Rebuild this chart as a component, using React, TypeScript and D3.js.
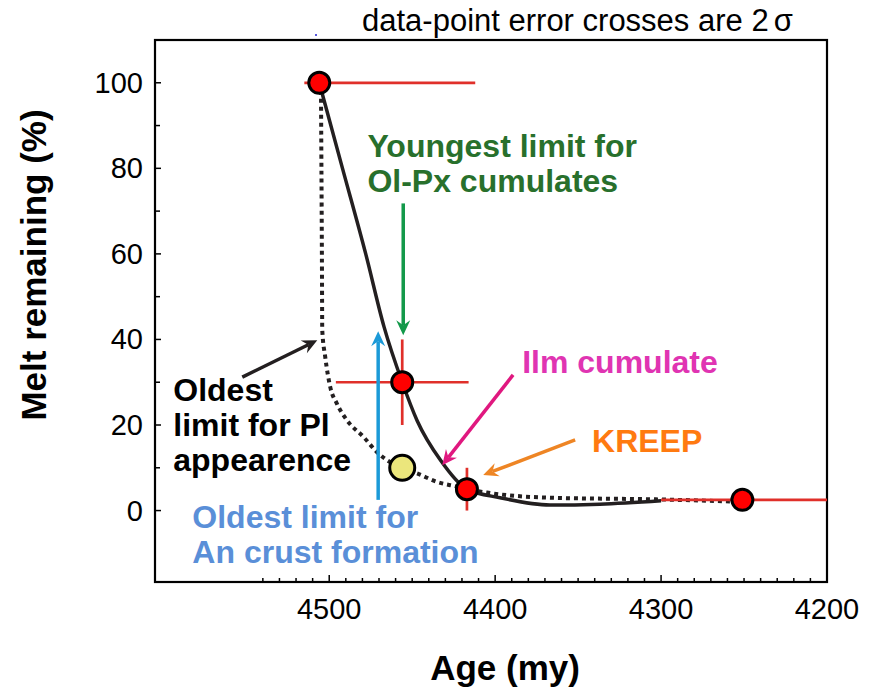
import React from "react";
import * as d3 from "d3";

// ---------- data ----------
const redPoints = [
  { age: 4506, melt: 100, ageLo: 4412, ageHi: 4515, meltLo: 100, meltHi: 100 },
  { age: 4456, melt: 30, ageLo: 4416, ageHi: 4496, meltLo: 20, meltHi: 40 },
  { age: 4417, melt: 5, ageLo: 4417, ageHi: 4417, meltLo: 0, meltHi: 10 },
  { age: 4251, melt: 2.5, ageLo: 4200, ageHi: 4300, meltLo: 2.5, meltHi: 2.5 },
];
const yellowPoint = { age: 4456, melt: 10 };

const solidCurve: [number, number][] = [
  [4506, 100], [4492, 80], [4478, 60], [4467, 43], [4456, 30], [4447, 21],
  [4433, 11.8], [4417, 5], [4397, 3.0], [4367, 1.3], [4337, 1.5], [4300, 2.3],
];
const dottedCurve: [number, number][] = [
  [4505, 100], [4504.4, 58.5], [4504.2, 42.2], [4502.4, 35.9], [4499.4, 28.9],
  [4495.4, 25.0], [4489.3, 21.1], [4479.3, 17.2], [4471.3, 13.7], [4456.2, 9.9],
  [4447.2, 8.7], [4435.1, 6.7], [4423.1, 5.6], [4416.6, 5.0], [4405, 4.2],
  [4367, 3.0], [4300.6, 2.6], [4256.4, 2.1],
];

const xMajorTicks = [4500, 4400, 4300, 4200];
const xMinorTicks = d3.range(4540, 4199, -10);
const yMajorTicks = [0, 20, 40, 60, 80, 100];
const yMinorTicks = [10, 30, 50, 70, 90];

const arrows = [
  { from: [4455.4, 71.8], to: [4455.4, 41.0], color: "#13994a" },
  { from: [4470.5, 2.5], to: [4470.5, 41.9], color: "#1b9ad8" },
  { from: [4552.4, 31.2], to: [4507.2, 39.8], color: "#231f20" },
  { from: [4389.2, 31.7], to: [4431.9, 10.6], color: "#e0187f" },
  { from: [4351.8, 16.5], to: [4407.2, 8.3], color: "#ee8524" },
];

const labels = [
  { lines: ["Youngest limit for", "Ol-Px cumulates"], age: 4477, melt: 82.6, color: "#28702c" },
  { lines: ["Ilm cumulate"], age: 4383.7, melt: 32.1, color: "#e034b2" },
  { lines: ["KREEP"], age: 4341.6, melt: 13.7, color: "#ff7a10" },
  { lines: ["Oldest", "limit for Pl", "appearence"], age: 4594, melt: 25.6, color: "#000000" },
  { lines: ["Oldest limit for", "An crust formation"], age: 4582.5, melt: -4.1, color: "#5a8fd8" },
];

// ---------- layout ----------
const W = 871, H = 695;
const L = 155, R = 827, T = 40, B = 582;
const FONT = "'Liberation Sans', Arial, Helvetica, sans-serif";

const x = d3.scaleLinear().domain([4605, 4200]).range([L, R]);
const y = d3.scaleLinear().domain([-16.7, 110]).range([B, T]);

function arrowShape(x1: number, y1: number, x2: number, y2: number) {
  const dx = x2 - x1, dy = y2 - y1;
  const len = Math.hypot(dx, dy);
  const ux = dx / len, uy = dy / len;
  const px = -uy, py = ux;
  const hl = 15, hw = 7, notch = 10;
  const bx = x2 - ux * hl, by = y2 - uy * hl;
  const nx = x2 - ux * notch, ny = y2 - uy * notch;
  const head = `M${x2},${y2} L${bx + px * hw},${by + py * hw} L${nx},${ny} L${bx - px * hw},${by - py * hw} Z`;
  return { shaft: [x1, y1, nx, ny], head };
}

export default function App() {
  const line = d3
    .line<[number, number]>()
    .x((d) => x(d[0]))
    .y((d) => y(d[1]))
    .curve(d3.curveMonotoneX);

  return (
    <svg
      width={W}
      height={H}
      style={{ position: "absolute", left: 0, top: 0, background: "#fff" }}
      fontFamily={FONT}
    >
      <rect x={0} y={0} width={W} height={H} fill="#fff" />
      {/* caption */}
      <text x={362} y={31} fontSize={31} fill="#000">
        data-point error crosses are 2<tspan dx={5}>σ</tspan>
      </text>
      <circle cx={316} cy={35} r={1} fill="#2020d0" />

      {/* frame */}
      <rect x={L} y={T} width={R - L} height={B - T} fill="none" stroke="#000" strokeWidth={2.2} />

      {/* y ticks */}
      {yMajorTicks.map((v) => (
        <g key={"ym" + v}>
          <line x1={L} x2={L + 6} y1={y(v)} y2={y(v)} stroke="#000" strokeWidth={1.5} />
          <text x={L - 12} y={y(v) + 10} fontSize={29} textAnchor="end" fill="#000">
            {v}
          </text>
        </g>
      ))}
      {yMinorTicks.map((v) => (
        <line key={"yn" + v} x1={L} x2={L + 5} y1={y(v)} y2={y(v)} stroke="#000" strokeWidth={1.5} />
      ))}

      {/* x ticks */}
      {xMinorTicks.map((v) => (
        <line key={"xn" + v} x1={x(v)} x2={x(v)} y1={B} y2={B - (v % 100 === 0 ? 7 : 4)} stroke="#000" strokeWidth={1.5} />
      ))}
      {xMajorTicks.map((v) => (
        <text key={"xl" + v} x={x(v)} y={B + 37} fontSize={29} textAnchor="middle" fill="#000">
          {v}
        </text>
      ))}

      {/* axis titles */}
      <text x={505} y={680} fontSize={35} fontWeight="bold" textAnchor="middle" fill="#000">
        Age (my)
      </text>
      <text
        transform={`translate(46,265) rotate(-90)`}
        fontSize={35}
        fontWeight="bold"
        textAnchor="middle"
        fill="#000"
      >
        Melt remaining (%)
      </text>

      {/* curves */}
      <path d={line(dottedCurve) || ""} fill="none" stroke="#231f20" strokeWidth={4} strokeDasharray="4 4" />
      <path d={line(solidCurve) || ""} fill="none" stroke="#231f20" strokeWidth={3.5} />

      {/* error bars */}
      {redPoints.map((p, i) => (
        <g key={"eb" + i} stroke="#e0302a" strokeWidth={2.7}>
          {p.ageLo !== p.ageHi && (
            <line x1={x(p.ageHi)} x2={x(p.ageLo)} y1={y(p.melt)} y2={y(p.melt)} />
          )}
          {p.meltLo !== p.meltHi && (
            <line x1={x(p.age)} x2={x(p.age)} y1={y(p.meltHi)} y2={y(p.meltLo)} />
          )}
        </g>
      ))}

      {/* arrows */}
      {arrows.map((a, i) => {
        const s = arrowShape(x(a.from[0]), y(a.from[1]), x(a.to[0]), y(a.to[1]));
        return (
          <g key={"ar" + i}>
            <line x1={s.shaft[0]} y1={s.shaft[1]} x2={s.shaft[2]} y2={s.shaft[3]} stroke={a.color} strokeWidth={3.5} />
            <path d={s.head} fill={a.color} />
          </g>
        );
      })}

      {/* points */}
      <circle cx={x(yellowPoint.age)} cy={y(yellowPoint.melt)} r={12.5} fill="#ebe67c" stroke="#000" strokeWidth={3} />
      {redPoints.map((p, i) => (
        <circle key={"pt" + i} cx={x(p.age)} cy={y(p.melt)} r={10.5} fill="#ff0000" stroke="#000" strokeWidth={3} />
      ))}

      {/* annotation labels */}
      {labels.map((lb, i) => (
        <text key={"lb" + i} x={x(lb.age)} y={y(lb.melt)} fontSize={32} fontWeight="bold" fill={lb.color}>
          {lb.lines.map((t, j) => (
            <tspan key={j} x={x(lb.age)} dy={j === 0 ? 0 : 35}>
              {t}
            </tspan>
          ))}
        </text>
      ))}
    </svg>
  );
}
